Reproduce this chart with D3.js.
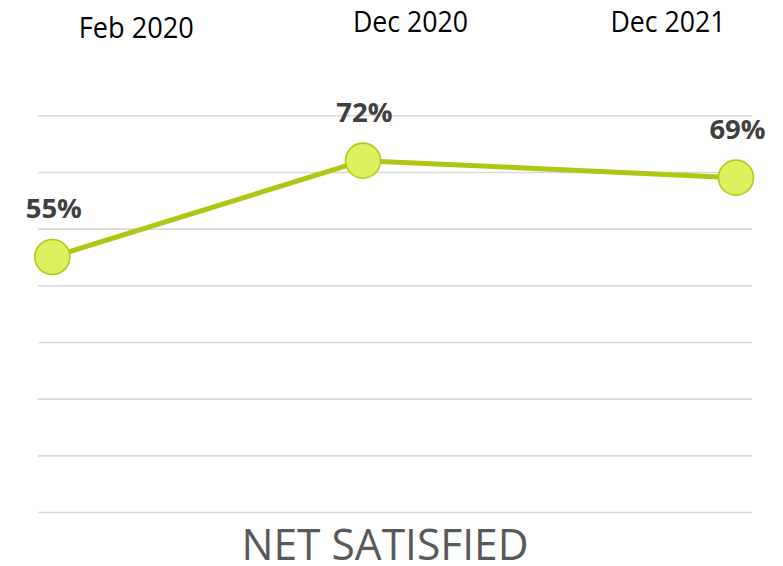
<!DOCTYPE html>
<html>
<head>
<meta charset="utf-8">
<script src="https://cdn.jsdelivr.net/npm/d3@7"></script>
<style>
  html, body { margin: 0; padding: 0; background: #ffffff; }
  svg { display: block; }
</style>
</head>
<body>
<svg id="chart" width="783" height="566"></svg>
<script>
// Survey waves and the share of respondents who were net satisfied
const periods = ["Feb 2020", "Dec 2020", "Dec 2021"];
const periodDates = ["2020-02-01", "2020-12-01", "2021-12-01"];
const netSatisfied = [55, 72, 69];
const gridTicks = [10, 20, 30, 40, 50, 60, 70, 80];
const chartTitle = "NET SATISFIED";

const parse = d3.timeParse("%Y-%m-%d");
const data = periods.map((p, i) => ({ period: p, date: parse(periodDates[i]), value: netSatisfied[i] }));

const svg = d3.select("#chart");

// Plot area
const plot = { left: 38, right: 752, top: 115.3, bottom: 512 };
const inset = { left: 14.3, right: 16 };

const x = d3.scaleTime()
  .domain(d3.extent(data, d => d.date))
  .range([plot.left + inset.left, plot.right - inset.right]);

const y = d3.scaleLinear()
  .domain([d3.min(gridTicks), d3.max(gridTicks)])
  .range([plot.bottom, plot.top]);

// Horizontal gridlines
const yAxis = d3.axisLeft(y)
  .tickValues(gridTicks)
  .tickSize(-(plot.right - plot.left))
  .tickFormat("");
const gAxis = svg.append("g")
  .attr("transform", `translate(${plot.left},0)`)
  .call(yAxis);
gAxis.select(".domain").remove();
gAxis.selectAll(".tick line")
  .attr("stroke", "#d9d9d9")
  .attr("stroke-width", 1.6);

// Column headers for each survey wave
const headerLayout = [
  { x: 136.3, y: 38.3 },
  { x: 410.5, y: 32.3 },
  { x: 668, y: 32.3 }
];
const headerWidth = 115;
svg.append("g").selectAll("text")
  .data(periods)
  .join("text")
  .attr("x", (d, i) => headerLayout[i].x)
  .attr("y", (d, i) => headerLayout[i].y)
  .attr("text-anchor", "middle")
  .attr("font-family", "'Open Sans', 'Noto Sans', sans-serif")
  .attr("font-size", 30)
  .attr("fill", "#000000")
  .attr("textLength", headerWidth)
  .attr("lengthAdjust", "spacingAndGlyphs")
  .text(d => d);

// Trend line
const line = d3.line()
  .x(d => x(d.date))
  .y(d => y(d.value));
svg.append("path")
  .datum(data)
  .attr("d", line)
  .attr("fill", "none")
  .attr("stroke", "#b0c612")
  .attr("stroke-width", 5)
  .attr("stroke-linejoin", "round");

// Markers
svg.append("g").selectAll("circle")
  .data(data)
  .join("circle")
  .attr("cx", d => x(d.date))
  .attr("cy", d => y(d.value))
  .attr("r", 17.5)
  .attr("fill", "#dff05e")
  .attr("stroke", "#b3c81a")
  .attr("stroke-width", 1.6);

// Value labels
svg.append("g").selectAll("text")
  .data(data)
  .join("text")
  .attr("x", d => x(d.date) + 1.5)
  .attr("y", d => y(d.value) - 38.5)
  .attr("text-anchor", "middle")
  .attr("font-family", "'Open Sans', 'Noto Sans', sans-serif")
  .attr("font-weight", 700)
  .attr("font-size", 27.5)
  .attr("fill", "#404040")
  .text(d => d.value + "%");

// Title below the chart
svg.append("text")
  .attr("x", 385)
  .attr("y", 560)
  .attr("text-anchor", "middle")
  .attr("font-family", "'Open Sans', 'Noto Sans', sans-serif")
  .attr("font-weight", 400)
  .attr("font-size", 43)
  .attr("fill", "#595959")
  .attr("textLength", 287)
  .attr("lengthAdjust", "spacingAndGlyphs")
  .text(chartTitle);
</script>
</body>
</html>
